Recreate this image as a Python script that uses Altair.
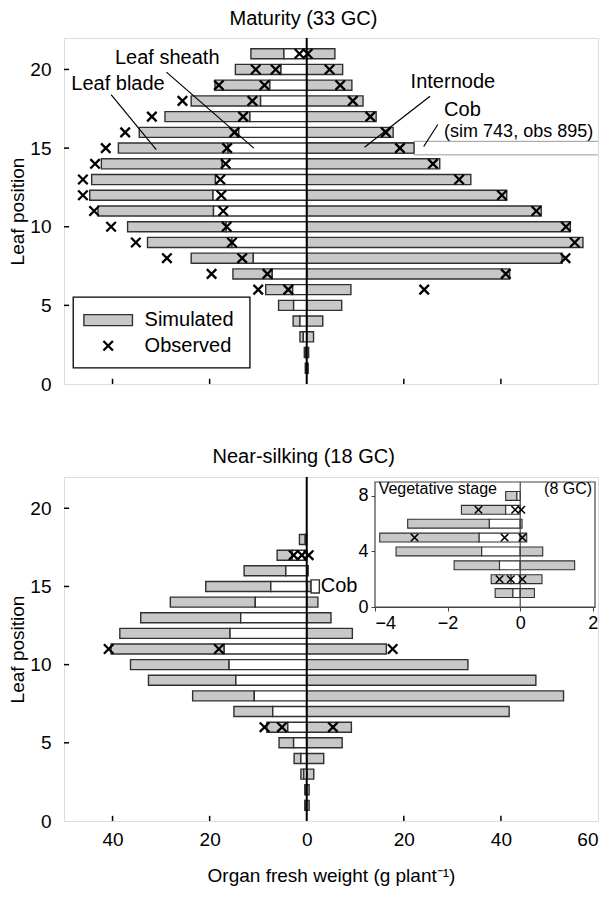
import altair as alt
import pandas as pd

FONT = "Liberation Sans"
GREY = "#c8c8c8"
EDGE = "#303030"
XSHAPE = "M-1,-1L1,1M-1,1L1,-1"

# ---------------- data (g plant-1) ----------------
# Maturity (33 GC), leaf positions 1..21
mat_pos = list(range(1, 22))
mat_blade = [0.2, 0.3, 0.7, 1.4, 3.1, 5.55, 8.1, 12.8, 17.4, 20.3, 23.8, 25.4, 25.5, 24.9, 22.6, 20.5, 17.5, 14.3, 11.3, 9.4, 6.8]
mat_sheath = [0.1, 0.2, 0.7, 1.4, 2.7, 2.9, 7.1, 11.0, 15.4, 16.6, 19.2, 19.3, 18.8, 17.4, 16.2, 14.0, 11.7, 9.5, 7.6, 5.3, 4.7]
mat_internode = [0.3, 0.4, 1.4, 3.3, 7.2, 9.1, 41.8, 52.6, 56.9, 54.3, 48.3, 41.2, 33.8, 27.4, 22.1, 17.8, 14.3, 11.6, 9.3, 7.4, 5.8]
mat_cob_pos, mat_cob_sim = 15, 743.0
# observed: blade+sheath (plotted left), sheath (plotted left), internode (plotted right)
mat_obs_pos = list(range(6, 22))
mat_obs_blade_sheath = [10.0, 19.6, 28.8, 35.2, 40.3, 43.8, 46.1, 46.1, 43.6, 41.4, 37.4, 31.9, 25.6, 18.1, 10.5, None]
mat_obs_sheath = [3.8, 8.1, 13.3, 15.4, 16.5, 17.2, 17.6, 17.8, 16.7, 16.4, 14.9, 13.1, 11.2, 8.7, 6.4, 1.5]
mat_obs_internode = [24.2, 41.0, 53.3, 55.2, 53.4, 47.3, 40.2, 31.4, 26.0, 19.2, 16.3, 13.1, 9.5, 6.9, 4.7, 0.2]

# Near-silking (18 GC), leaf positions 1..18
sil_pos = list(range(1, 19))
sil_blade = [0.2, 0.2, 0.6, 1.4, 3.0, 4.3, 8.0, 12.7, 18.0, 20.3, 23.3, 22.7, 20.6, 17.5, 13.4, 8.6, 3.1, 1.2]
sil_sheath = [0.2, 0.2, 0.6, 1.2, 2.7, 3.9, 7.0, 10.8, 14.6, 16.0, 17.0, 15.8, 13.6, 10.6, 7.4, 4.3, 3.0, 0.3]
sil_internode = [0.5, 0.5, 1.45, 3.5, 7.3, 9.2, 41.7, 52.9, 47.2, 33.2, 16.4, 9.4, 5.0, 2.3, 0.9, 0.3, 0.0, 0.0]
sil_cob_pos, sil_cob_sim = 15, 1.7
sil_obs_pos = [6, 11, 17]
sil_obs_blade_sheath = [8.7, 40.8, 2.7]
sil_obs_sheath = [5.1, 18.1, 1.0]
sil_obs_internode = [5.4, 17.7, 0.4]

# Vegetative stage (8 GC), leaf positions 1..8
veg_pos = list(range(1, 9))
veg_blade = [0.49, 0.55, 1.25, 2.36, 2.74, 2.25, 1.22, 0.31]
veg_sheath = [0.2, 0.25, 0.57, 1.06, 1.13, 0.85, 0.4, 0.09]
veg_internode = [0.39, 0.6, 1.5, 0.62, 0.18, 0.05, 0.0, 0.0]
veg_obs_pos = [2, 5, 7]
veg_obs_blade_sheath = [0.57, 2.91, 1.15]
veg_obs_sheath = [0.26, 0.43, 0.14]
veg_obs_internode = [0.06, 0.06, 0.03]

x_ticks = [-40, -20, 0, 20, 40, 60]
y_ticks = [0, 5, 10, 15, 20]


def bar_df(pos, blade, sheath, internode):
    rows = []
    for p, b, s, i in zip(pos, blade, sheath, internode):
        rows.append(dict(pos=p, x0=-(b + s), x1=-s, fill=GREY))
        rows.append(dict(pos=p, x0=-s, x1=0.0, fill="white"))
        if i > 0:
            rows.append(dict(pos=p, x0=0.0, x1=i, fill=GREY))
    return pd.DataFrame(rows)


def obs_df(pos, bs, s, i):
    rows = []
    for p, a, b, c in zip(pos, bs, s, i):
        if a is not None:
            rows.append(dict(pos=p, x=-a))
        if b is not None:
            rows.append(dict(pos=p, x=-b))
        if c is not None:
            rows.append(dict(pos=p, x=c))
    return pd.DataFrame(rows)


class Panel:
    def __init__(self, xs, ys, xa, ya):
        self.xs, self.ys, self.xa, self.ya = xs, ys, xa, ya

    def X(self, f):
        return alt.X(f, type="quantitative", scale=self.xs, axis=self.xa)

    def Y(self, f):
        return alt.Y(f, type="quantitative", scale=self.ys, axis=self.ya)

    def bars(self, df, h, sw=1.4):
        return alt.Chart(df).transform_calculate(
            lo=f"datum.pos - {h}", hi=f"datum.pos + {h}"
        ).mark_rect(stroke=EDGE, strokeWidth=sw).encode(
            x=self.X("x0"), x2="x1", y=self.Y("lo"), y2="hi",
            fill=alt.Fill("fill:N", scale=None))

    def points(self, df, size=90, sw=2.3):
        return alt.Chart(df).mark_point(shape=XSHAPE, size=size, filled=False,
                                        stroke="black", strokeWidth=sw, opacity=1).encode(
            x=self.X("x"), y=self.Y("pos"))

    def rects(self, df, **kw):
        return alt.Chart(df).mark_rect(**kw).encode(
            x=self.X("x"), x2="x2", y=self.Y("y"), y2="y2")

    def rules(self, df, **kw):
        return alt.Chart(df).mark_rule(**kw).encode(
            x=self.X("x"), x2="x2", y=self.Y("y"), y2="y2")

    def texts(self, df, align, size, **kw):
        return alt.Chart(df).mark_text(align=align, baseline="middle", fontSize=size,
                                       font=FONT, color="black", **kw).encode(
            x=self.X("x"), y=self.Y("y"), text="t:N")


def main_scales():
    return (alt.Scale(domain=[-50, 60], nice=False, zero=False),
            alt.Scale(domain=[0, 22], nice=False, zero=False))


y_axis = alt.Axis(values=y_ticks, title="Leaf position", tickSize=0, domain=False, grid=False,
                  labelFontSize=19, titleFontSize=19, labelPadding=13, titlePadding=2,
                  labelFont=FONT, titleFont=FONT, titleFontWeight="normal", labelColor="black",
                  titleColor="black")
x_axis_top = alt.Axis(values=x_ticks, labels=False, ticks=False, domain=False, grid=False, title=None)
x_axis_bot = alt.Axis(values=x_ticks, tickSize=0, domain=False, grid=False,
                      labelExpr="abs(datum.value)", labelFontSize=19, labelPadding=9,
                      title="Organ fresh weight (g plant\u207b\u00b9)", titleFontSize=19,
                      titlePadding=17, labelFont=FONT, titleFont=FONT, titleFontWeight="normal",
                      labelColor="black", titleColor="black")

tick_df = pd.DataFrame(
    [dict(x=v, x2=v, y=0, y2=0.33) for v in [-40, -20, 20, 40]] +
    [dict(x=-50, x2=-48.95, y=v, y2=v) for v in [5, 10, 15, 20]])

# ---------------- top panel: maturity ----------------
xs, ys = main_scales()
P = Panel(xs, ys, x_axis_top, y_axis)
cob_start = mat_internode[mat_pos.index(mat_cob_pos)]
top_layers = [
    P.bars(bar_df(mat_pos, mat_blade, mat_sheath, mat_internode), 0.32),
    alt.Chart(pd.DataFrame(dict(pos=[mat_cob_pos], x0=[cob_start], x1=[cob_start + mat_cob_sim])))
    .transform_calculate(lo="datum.pos - 0.43", hi="datum.pos + 0.43")
    .mark_rect(fill="white", stroke="#9a9a9a", strokeWidth=1, clip=True)
    .encode(x=P.X("x0"), x2="x1", y=P.Y("lo"), y2="hi"),
    P.bars(bar_df([mat_cob_pos], [0], [0], [cob_start]).query("x1 > 0"), 0.32),
    alt.Chart(pd.DataFrame(dict(x=[0]))).mark_rule(color="black", strokeWidth=2).encode(x=P.X("x")),
    P.rules(tick_df, color="black", strokeWidth=1.5),
    P.points(obs_df(mat_obs_pos, mat_obs_blade_sheath, mat_obs_sheath, mat_obs_internode)),
    # annotations
    P.rules(pd.DataFrame(dict(x=[-28.9, -40.3, 25.4, 27.0], x2=[-10.9, -31.0, 11.9, 24.1],
                              y=[19.83, 18.4, 18.3, 16.5], y2=[15.0, 14.9, 15.05, 15.1])),
            color="black", strokeWidth=1.2),
    P.texts(pd.DataFrame(dict(x=[-39.5, -48.5, 21.4, 28.3], y=[20.7, 19.07, 19.2, 17.4],
                              t=["Leaf sheath", "Leaf blade", "Internode", "Cob"])), "left", 20),
    P.texts(pd.DataFrame(dict(x=[28.3], y=[16.0], t=["(sim 743, obs 895)"])), "left", 18),
    # legend
    P.rects(pd.DataFrame(dict(x=[-48.1], x2=[-11.7], y=[1.02], y2=[5.53])),
            fill="white", stroke="black", strokeWidth=1.3),
    P.rects(pd.DataFrame(dict(x=[-45.9], x2=[-35.9], y=[3.71], y2=[4.41])),
            fill=GREY, stroke=EDGE, strokeWidth=1.4),
    P.points(pd.DataFrame(dict(x=[-40.9], pos=[2.43]))),
    P.texts(pd.DataFrame(dict(x=[-33.4, -33.4], y=[4.06, 2.43], t=["Simulated", "Observed"])), "left", 20),
]
top = alt.layer(*top_layers).properties(
    width=534, height=346,
    title=alt.TitleParams("Maturity (33 GC)", fontSize=20, fontWeight="normal", font=FONT,
                          offset=8, anchor="middle", frame="bounds", color="black"))

# ---------------- bottom panel: near-silking ----------------
xs2, ys2 = main_scales()
Q = Panel(xs2, ys2, x_axis_bot, y_axis)
sil_cob_start = sil_internode[sil_pos.index(sil_cob_pos)]
bot_main = alt.layer(
    Q.bars(bar_df(sil_pos, sil_blade, sil_sheath, sil_internode), 0.32),
    alt.Chart(pd.DataFrame(dict(pos=[sil_cob_pos], x0=[sil_cob_start], x1=[sil_cob_start + sil_cob_sim])))
    .transform_calculate(lo="datum.pos - 0.42", hi="datum.pos + 0.42")
    .mark_rect(fill="white", stroke=EDGE, strokeWidth=1.4)
    .encode(x=Q.X("x0"), x2="x1", y=Q.Y("lo"), y2="hi"),
    alt.Chart(pd.DataFrame(dict(x=[0]))).mark_rule(color="black", strokeWidth=2).encode(x=Q.X("x")),
    Q.rules(tick_df, color="black", strokeWidth=1.5),
    Q.points(obs_df(sil_obs_pos, sil_obs_blade_sheath, sil_obs_sheath, sil_obs_internode)),
    Q.texts(pd.DataFrame(dict(x=[2.9], y=[15.0], t=["Cob"])), "left", 20),
)

# inset: vegetative stage
ix = alt.Scale(domain=[-4, 2.06], range=[311, 531], nice=False, zero=False)
iy = alt.Scale(domain=[0, 9], range=[130, 5], nice=False, zero=False)
ixa = alt.Axis(orient="bottom", offset=-214, values=[-4, -2, 0, 2], grid=False, tickSize=4,
               tickColor="#444", domainColor="#444", labelFontSize=18, labelPadding=3,
               labelFont=FONT, labelColor="black", title=None)
iya = alt.Axis(orient="left", offset=-311, values=[0, 4, 8], grid=False, tickSize=4,
               tickColor="#444", domainColor="#444", labelFontSize=18, labelPadding=3,
               labelFont=FONT, labelColor="black", title=None)
I = Panel(ix, iy, ixa, iya)
inset = alt.layer(
    I.rects(pd.DataFrame(dict(x=[-4], x2=[2.06], y=[0], y2=[9])), fill="white",
            stroke="#444", strokeWidth=1.2),
    I.bars(bar_df(veg_pos, veg_blade, veg_sheath, veg_internode), 0.32, sw=1.1),
    I.rules(pd.DataFrame(dict(x=[0], x2=[0], y=[0], y2=[9])), color="#444", strokeWidth=1.2),
    I.points(obs_df(veg_obs_pos, veg_obs_blade_sheath, veg_obs_sheath, veg_obs_internode),
             size=55, sw=1.5),
    I.texts(pd.DataFrame(dict(x=[-3.9], y=[8.5], t=["Vegetative stage"])), "left", 16),
    I.texts(pd.DataFrame(dict(x=[1.98], y=[8.5], t=["(8 GC)"])), "right", 16),
)

bottom = alt.layer(bot_main, inset).resolve_scale(x="independent", y="independent").properties(
    width=534, height=344,
    title=alt.TitleParams("Near-silking (18 GC)", fontSize=20, fontWeight="normal", font=FONT,
                          offset=9, anchor="middle", frame="bounds", color="black"))

chart = alt.vconcat(top, bottom, spacing=51).properties(
    padding={"left": 0, "top": 0, "right": 0, "bottom": 0}
).configure_view(stroke="black", strokeWidth=1.5).configure(font=FONT)

chart.save("out.html", embed_options={"renderer": "svg", "actions": False})
